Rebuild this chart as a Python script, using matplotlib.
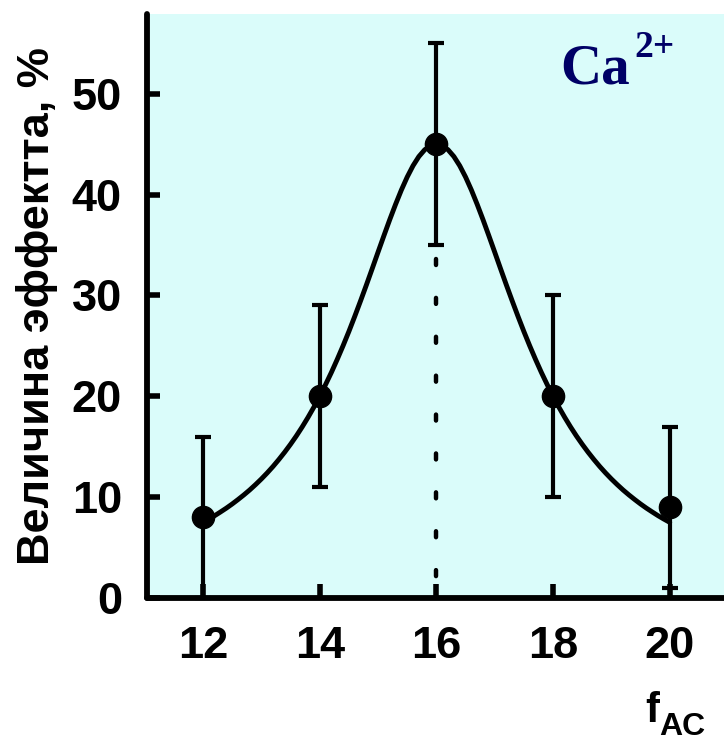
import matplotlib
matplotlib.use("Agg")
import matplotlib.pyplot as plt

# data
freq = [12, 14, 16, 18, 20]
effect = [8, 20, 45, 20, 9]
effect_err = [8, 9, 10, 10, 8]

curve_x = [12.0, 12.1, 12.2, 12.3, 12.4, 12.5, 12.6, 12.7, 12.8, 12.9,
           13.0, 13.1, 13.2, 13.3, 13.4, 13.5, 13.6, 13.7, 13.8, 13.9,
           14.0, 14.1, 14.2, 14.3, 14.4, 14.5, 14.6, 14.7, 14.8, 14.9,
           15.0, 15.1, 15.2, 15.3, 15.4, 15.5, 15.6, 15.7, 15.8, 15.9,
           16.0, 16.1, 16.2, 16.3, 16.4, 16.5, 16.6, 16.7, 16.8, 16.9,
           17.0, 17.1, 17.2, 17.3, 17.4, 17.5, 17.6, 17.7, 17.8, 17.9,
           18.0, 18.1, 18.2, 18.3, 18.4, 18.5, 18.6, 18.7, 18.8, 18.9,
           19.0, 19.1, 19.2, 19.3, 19.4, 19.5, 19.6, 19.7, 19.8, 19.9, 20.0]
curve_y = [7.50, 7.82, 8.16, 8.53, 8.91, 9.32, 9.76, 10.22, 10.71, 11.24,
           11.80, 12.40, 13.04, 13.73, 14.46, 15.24, 16.07, 16.96, 17.91, 18.92,
           20.00, 21.15, 22.36, 23.65, 25.00, 26.42, 27.91, 29.45, 31.03, 32.65,
           34.29, 35.91, 37.50, 39.02, 40.45, 41.74, 42.86, 43.77, 44.44, 44.86,
           45.00, 44.86, 44.44, 43.77, 42.86, 41.74, 40.45, 39.02, 37.50, 35.91,
           34.29, 32.65, 31.03, 29.45, 27.91, 26.42, 25.00, 23.65, 22.36, 21.15,
           20.00, 18.92, 17.91, 16.96, 16.07, 15.24, 14.46, 13.73, 13.04, 12.40,
           11.80, 11.24, 10.71, 10.22, 9.76, 9.32, 8.91, 8.53, 8.16, 7.82, 7.50]

peak_x = 16
peak_line_top = 33.6

xticks = [12, 14, 16, 18, 20]
yticks = [0, 10, 20, 30, 40, 50]

W, H = 724, 741
fig = plt.figure(figsize=(W / 100, H / 100), dpi=100)
ax = fig.add_axes([147 / W, (H - 598) / H, (W - 147) / W, (598 - 14) / H])
ax.set_facecolor('#DAFCFA')

ax.plot(curve_x, curve_y, color='black', lw=3.5, solid_capstyle='round',
        solid_joinstyle='round', zorder=3)
ax.errorbar(freq, effect, yerr=effect_err, fmt='o', color='black', ms=16,
            elinewidth=3, capsize=6, capthick=3, zorder=4, clip_on=False)
dl, = ax.plot([peak_x, peak_x], [peak_line_top, 0], color='black', lw=3.2,
              zorder=2)
dl.set_dashes((1.35, 7.4))
dl.set_dash_capstyle('round')

ax.set_xlim(11.04, 20.93)
ax.set_ylim(0, 57.9)
ax.set_xticks(xticks)
ax.set_yticks(yticks)

for s in ['top', 'right']:
    ax.spines[s].set_visible(False)
for s in ['left', 'bottom']:
    ax.spines[s].set_linewidth(4.2)
    ax.spines[s].set_capstyle('round')

ax.tick_params(axis='both', direction='in', width=4, color='black')
ax.tick_params(axis='x', length=10, pad=20)
ax.tick_params(axis='y', length=9, pad=18)
for lab in ax.get_xticklabels() + ax.get_yticklabels():
    lab.set_fontfamily('Liberation Sans')
    lab.set_fontweight('bold')
    lab.set_fontsize(32.5)

fig.text(37 / W, (H - 306) / H, 'Величина эффектта, %', rotation=90,
         ha='center', va='center', fontsize=32.5, fontweight='bold',
         family='Liberation Sans')

fig.text(645 / W, (H - 722) / H, 'f', ha='left', va='baseline', fontsize=30,
         fontweight='bold', family='Liberation Sans')
fig.text(659 / W, (H - 735) / H, 'AC', ha='left', va='baseline', fontsize=23,
         fontweight='bold', family='Liberation Sans')

navy = '#000066'
fig.text(560 / W, (H - 83) / H, 'Ca', ha='left', va='baseline', fontsize=41,
         fontweight='bold', family='Liberation Serif', color=navy)
fig.text(634 / W, (H - 57) / H, '2+', ha='left', va='baseline', fontsize=27,
         fontweight='bold', family='Liberation Serif', color=navy)

fig.savefig('out.png', dpi=100)
